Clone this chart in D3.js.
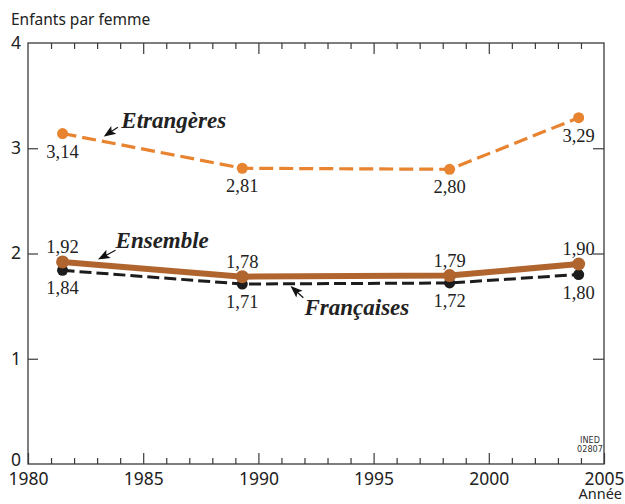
<!DOCTYPE html>
<html>
<head>
<meta charset="utf-8">
<script src="https://cdn.jsdelivr.net/npm/d3@7"></script>
<style>
  body { margin: 0; background: #fff; }
  svg { display: block; }
  .axis path { display: none; }
  .axis line { stroke: #3a3a3a; stroke-width: 1.2; }
  .axis text { font-family: "Noto Sans", sans-serif; font-size: 17.5px; fill: #222; }
  .val { font-family: "Liberation Serif", serif; font-size: 18.5px; fill: #222; text-anchor: middle; }
  .name { font-family: "Liberation Serif", serif; font-size: 23px; font-weight: bold; font-style: italic; fill: #222; }
</style>
</head>
<body>
<svg width="625" height="504"></svg>
<script>

// DATA
var years = [1981.5, 1989.3, 1998.3, 2003.9];
var etrangeres = [3.14, 2.81, 2.80, 3.29];
var ensemble = [1.92, 1.78, 1.79, 1.90];
var francaises = [1.84, 1.71, 1.72, 1.80];

var yearTicks = [1980, 1985, 1990, 1995, 2000, 2005];
var valueTicks = [0, 1, 2, 3, 4];

var svg = d3.select("svg"),
    margin = {top: 43, right: 21, bottom: 40, left: 28},
    width = +svg.attr("width") - margin.left - margin.right,
    height = +svg.attr("height") - margin.top - margin.bottom;

var g = svg.append("g")
    .attr("transform", "translate(" + margin.left + "," + margin.top + ")");

var x = d3.scaleLinear().domain([1980, 2005]).range([0, width]);
var y = d3.scaleLinear().domain([0, 4]).range([height, 0]);

// FRAME + AXES

var minorYears = d3.range(1981, 2005).filter(function(d) { return d % 5 != 0; });

g.append("g").attr("class", "axis")
    .attr("transform", "translate(0," + height + ")")
    .call(d3.axisBottom(x).tickValues(minorYears).tickSize(-6).tickFormat(""));
g.append("g").attr("class", "axis")
    .attr("transform", "translate(0," + height + ")")
    .call(d3.axisBottom(x).tickValues(yearTicks).tickSize(-11).tickPadding(9).tickFormat(d3.format("d")));

g.append("g").attr("class", "axis")
    .call(d3.axisTop(x).tickValues(minorYears).tickSize(-6).tickFormat(""));
g.append("g").attr("class", "axis")
    .call(d3.axisTop(x).tickValues(yearTicks.slice(1, -1)).tickSize(-11).tickFormat(""));

g.append("g").attr("class", "axis")
    .call(d3.axisLeft(y).tickValues([1, 2, 3]).tickSize(-10).tickFormat(""));
var yl = g.append("g").attr("class", "axis")
    .call(d3.axisLeft(y).tickValues(valueTicks).tickSize(0).tickPadding(7).tickFormat(d3.format("d")));
yl.selectAll("text").attr("dy", function(d) { return d == 0 ? "0.1em" : "0.3em"; });

g.append("g").attr("class", "axis")
    .attr("transform", "translate(" + width + ",0)")
    .call(d3.axisRight(y).tickValues([1, 2, 3]).tickSize(-11).tickFormat(""));

g.append("rect")
    .attr("width", width).attr("height", height)
    .attr("fill", "none").attr("stroke", "#3a3a3a").attr("stroke-width", 1.3);

// TITLES

svg.append("text")
    .attr("x", 11).attr("y", 25)
    .style("font-family", "'Noto Sans', sans-serif").style("font-size", "15.5px").style("fill", "#222")
    .text("Enfants par femme");

svg.append("text")
    .attr("x", 622).attr("y", 499).attr("text-anchor", "end")
    .style("font-family", "'Noto Sans', sans-serif").style("font-size", "14.5px").style("fill", "#222")
    .text("Année");

var ined = svg.append("text")
    .attr("text-anchor", "middle")
    .style("font-family", "'Liberation Sans Narrow', 'DejaVu Sans Condensed', sans-serif")
    .style("font-size", "9px").style("fill", "#333");
ined.append("tspan").attr("x", 590).attr("y", 443).text("INED");
ined.append("tspan").attr("x", 590).attr("y", 452).text("02807");

// SERIES

var series = [
  {key: "Etrangères", values: etrangeres, color: "#e8832f", width: 3.2, dash: "14,6", r: 5.5, labelPos: [1, 1, 1, 1]},
  {key: "Ensemble", values: ensemble, color: "#b0652f", width: 6, dash: null, r: 6.5, labelPos: [-1, -1, -1, -1]},
  {key: "Françaises", values: francaises, color: "#1c1c1c", width: 3, dash: "12,5", r: 5.5, labelPos: [1, 1, 1, 1]}
];

var line = d3.line()
    .x(function(d) { return x(d[0]); })
    .y(function(d) { return y(d[1]); });

// draw Françaises first, then Ensemble on top
[series[2], series[1], series[0]].forEach(function(s) {
  var pts = years.map(function(yr, i) { return [yr, s.values[i]]; });
  var sg = g.append("g");
  sg.append("path")
      .datum(pts)
      .attr("d", line)
      .attr("fill", "none")
      .attr("stroke", s.color)
      .attr("stroke-width", s.width)
      .attr("stroke-dasharray", s.dash);
  sg.selectAll("circle")
    .data(pts)
    .enter().append("circle")
      .attr("cx", function(d) { return x(d[0]); })
      .attr("cy", function(d) { return y(d[1]); })
      .attr("r", s.r)
      .attr("fill", s.color);
  sg.selectAll("text")
    .data(pts)
    .enter().append("text")
      .attr("class", "val")
      .attr("x", function(d) { return x(d[0]); })
      .attr("y", function(d, i) { return y(d[1]) + (s.labelPos[i] > 0 ? 24 : -9); })
      .text(function(d) { return d3.format(".2f")(d[1]).replace(".", ","); });
});

// SERIES NAMES + ARROWS

var names = [
  {text: "Etrangères", year: 1984.05, value: 3.19, tip: [1983.35, 3.12], tail: [1983.9, 3.2]},
  {text: "Ensemble", year: 1983.8, value: 2.05, tip: [1983.1, 1.95], tail: [1983.8, 2.03]},
  {text: "Françaises", year: 1992.0, value: 1.42, tip: [1991.45, 1.68], tail: [1991.95, 1.58]}
];

g.selectAll(".name")
  .data(names)
  .enter().append("text")
    .attr("class", "name")
    .attr("x", function(d) { return x(d.year); })
    .attr("y", function(d) { return y(d.value); })
    .text(function(d) { return d.text; });

g.selectAll(".arrow")
  .data(names)
  .enter().append("path")
    .attr("class", "arrow")
    .attr("fill", "#111")
    .attr("d", function(d) {
      var x1 = x(d.tip[0]), y1 = y(d.tip[1]), x2 = x(d.tail[0]), y2 = y(d.tail[1]);
      var a = Math.atan2(y2 - y1, x2 - x1);
      var ux = Math.cos(a), uy = Math.sin(a), px = -uy, py = ux;
      var hb = 9;
      return "M" + x1 + "," + y1 +
        "L" + (x1 + ux * hb + px * 3.5) + "," + (y1 + uy * hb + py * 3.5) +
        "L" + (x1 + ux * (hb - 2)) + "," + (y1 + uy * (hb - 2)) +
        "L" + (x1 + ux * hb - px * 3.5) + "," + (y1 + uy * hb - py * 3.5) + "Z" +
        "M" + (x1 + ux * 6) + "," + (y1 + uy * 6) +
        "L" + x2 + "," + y2;
    })
    .attr("stroke", "#111")
    .attr("stroke-width", 1.2);

</script>
</body>
</html>
